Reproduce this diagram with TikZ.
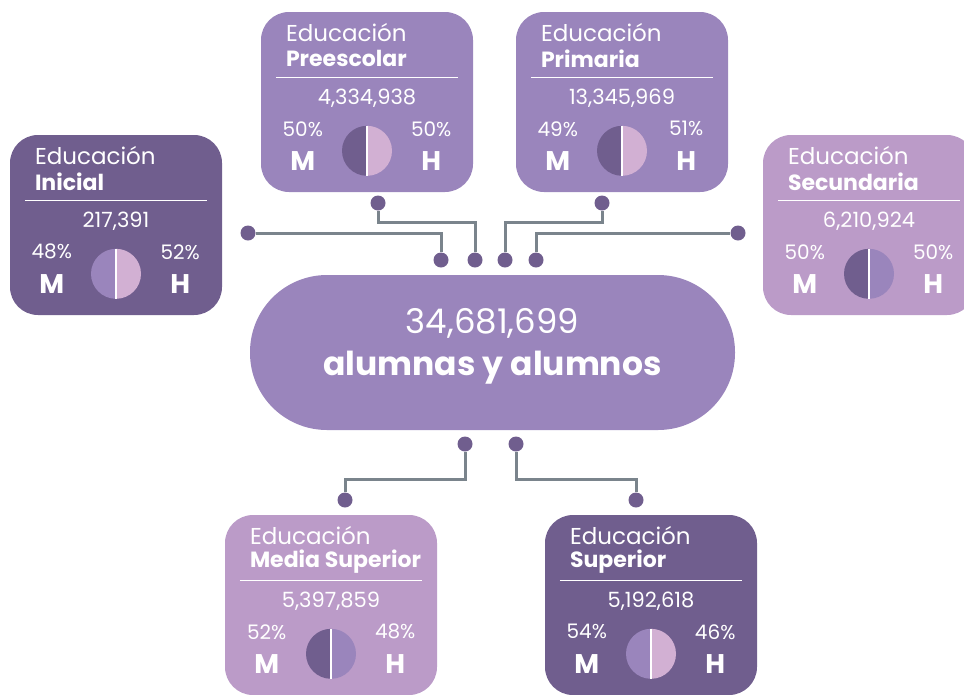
\documentclass[tikz,border=0pt]{standalone}
\usepackage{fontspec}
\setmainfont{Poppins}
\usepackage{tikz}
\usetikzlibrary{positioning, calc}

\definecolor{oscuro}{HTML}{705E8E}
\definecolor{medio}{HTML}{9A85BC}
\definecolor{claro}{HTML}{BB9BC8}
\definecolor{rosa}{HTML}{D2B0D3}
\definecolor{gris}{HTML}{7A848C}

\tikzset{
  nivelbox/.style={rectangle, rounded corners=28pt, minimum width=212pt, minimum height=180pt, inner sep=0pt},
  totalbox/.style={rectangle, rounded corners=77pt, fill=medio, minimum width=485pt, minimum height=155pt, inner sep=0pt, text=white, align=center},
  edutxt/.style={text=white, inner sep=0pt, anchor=west, font=\fontsize{23}{25}\selectfont},
  titletxt/.style={text=white, inner sep=0pt, anchor=west, font=\fontsize{22}{25}\selectfont\bfseries},
  numtxt/.style={text=white, inner sep=0pt, font=\fontsize{21}{24}\selectfont},
  pcttxt/.style={text=white, inner sep=0pt, font=\fontsize{20}{22}\selectfont},
  mhtxt/.style={text=white, inner sep=0pt, font=\fontsize{27}{30}\selectfont\bfseries},
  punto/.style={circle, fill=oscuro, minimum size=15pt, inner sep=0pt},
  linea/.style={draw=gris, line width=3pt},
}

% texts and half circle of one level box
\newcommand{\nivelinfo}[7]{%
  \node[edutxt] (#1-edu) at ($(#1.north west)+(25,21)$) {Educación};
  \node[titletxt] (#1-tit) at ($(#1.north west)+(25,47)$) {#2};
  \draw[white, line width=1pt] ($(#1.north west)+(15,66)$) -- ($(#1.north east)+(-15,66)$);
  \node[numtxt] (#1-num) at ($(#1.north)+(0,86)$) {#3};
  \node[pcttxt] (#1-pm) at ($(#1.north west)+(42,117)$) {#4};
  \node[pcttxt] (#1-ph) at ($(#1.north east)+(-42,117)$) {#5};
  \node[mhtxt] (#1-m) at ($(#1.north west)+(42,149)$) {M};
  \node[mhtxt] (#1-h) at ($(#1.north east)+(-42,149)$) {H};
  \coordinate (#1-c) at ($(#1.north)+(0,139)$);
  \fill[#6] (#1-c) ++(0,25pt) arc (90:270:25pt) -- cycle;
  \fill[#7] (#1-c) ++(0,25pt) arc (90:-90:25pt) -- cycle;
  \draw[white, line width=1.2pt] (#1-c) ++(0,25pt) -- ++(0,-50pt);
}

\begin{document}
\begin{tikzpicture}[x=1pt, y=-1pt]

\useasboundingbox (0,0) rectangle (964,694);

\node[totalbox] (total) at (492.5,352.5) {{\fontsize{34}{40}\selectfont 34,681,699}\\[11pt]{\fontsize{33}{38}\selectfont\bfseries alumnas y alumnos}\\[9pt]};

\node[nivelbox, fill=oscuro] (inicial) at (116,225) {};
\node[nivelbox, fill=medio] (preescolar) at (367,102) {};
\node[nivelbox, fill=medio] (primaria) at (622,102) {};
\node[nivelbox, fill=claro] (secundaria) at (869,225) {};
\node[nivelbox, fill=claro] (mediasup) at (331,605) {};
\node[nivelbox, fill=oscuro] (superior) at (651,605) {};

\nivelinfo{inicial}{Inicial}{217,391}{48\%}{52\%}{medio}{rosa}
\nivelinfo{preescolar}{Preescolar}{4,334,938}{50\%}{50\%}{oscuro}{rosa}
\nivelinfo{primaria}{Primaria}{13,345,969}{49\%}{51\%}{oscuro}{rosa}
\nivelinfo{secundaria}{Secundaria}{6,210,924}{50\%}{50\%}{oscuro}{medio}
\nivelinfo{mediasup}{Media Superior}{5,397,859}{52\%}{48\%}{oscuro}{medio}
\nivelinfo{superior}{Superior}{5,192,618}{54\%}{46\%}{medio}{rosa}

% dots
\node[punto] (p-ini) at (248,233) {};
\node[punto] (p-pre) at (378,203) {};
\node[punto] (p-pri) at (602,203) {};
\node[punto] (p-sec) at (738,233) {};
\node[punto] (t1) at (441,260) {};
\node[punto] (t2) at (475,260) {};
\node[punto] (t3) at (505,260) {};
\node[punto] (t4) at (536,260) {};
\node[punto] (b1) at (465,444) {};
\node[punto] (b2) at (516,444) {};
\node[punto] (p-ms) at (345,500) {};
\node[punto] (p-su) at (636,500) {};

% connectors
\draw[linea] (p-ini) -| (t1);
\draw[linea] (p-pre) -- ++(0,19) -| (t2);
\draw[linea] (p-pri) -- ++(0,19) -| (t3);
\draw[linea] (p-sec) -| (t4);
\draw[linea] (b1) -- ++(0,35) -| (p-ms);
\draw[linea] (b2) -- ++(0,35) -| (p-su);

\end{tikzpicture}
\end{document}
